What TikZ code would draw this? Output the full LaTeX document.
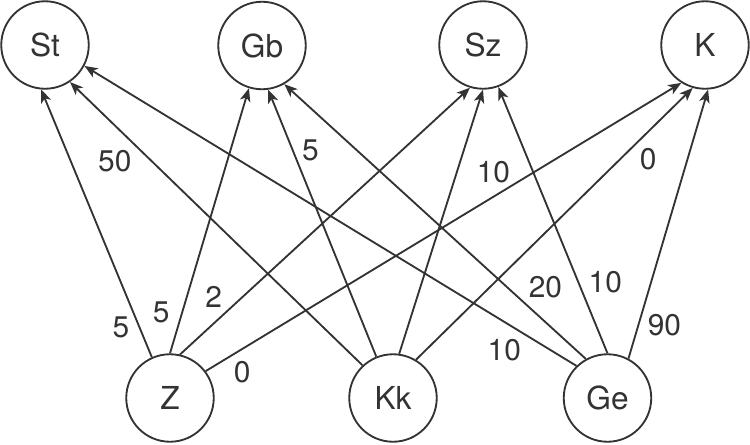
\documentclass[tikz,border=0pt]{standalone}
\usepackage{fontspec}
\setmainfont{TeX Gyre Heros}
\usetikzlibrary{arrows.meta}
\definecolor{ink}{HTML}{333333}

\begin{document}
\begin{tikzpicture}[scale = 1.0,
	state/.style = {shape=circle, draw=ink, text=ink, line width = 1.05pt, minimum size = 1.75cm, inner sep = 0pt, font=\fontsize{18}{21}\selectfont},
	wt/.style = {text=ink, inner sep = 2pt, font=\fontsize{17}{20}\selectfont},
	every edge/.style = {draw=ink, line width = 1.05pt, -{Stealth[length=7.5pt, width=6pt, inset=2pt]}}]
	\useasboundingbox (0,0) rectangle (15,8.88);
	
	\node(St) [state] at (0.90,7.98) {St};
	\node(Gb) [state] at (5.24,7.97) {Gb};
	\node(Sz) [state] at (9.66,7.98) {Sz};
	\node(K)  [state] at (14.10,7.98) {K};
	\node(Z)  [state] at (3.40,0.92) {Z};
	\node(Kk) [state] at (7.86,0.92) {Kk};
	\node(Ge) [state] at (12.15,0.92) {Ge};
	
	\path
	(Z.114) edge node [wt, pos=0.11, left=3.4pt]  {5}  (St.265)
	(Z.90)  edge node [wt, pos=0.154, left=4.7pt] {5}  (Gb.253)
	(Z.77)  edge node [wt, pos=0.16, above left]  {2}  (Sz.253)
	(Z.37)  edge node [wt, pos=0.05, below right] {0}  (K.238)
	(Kk.133) edge node [wt, pos=0.775, below left] {50} (St.304)
	(Kk.112) edge node [wt, pos=0.773, right=2.8pt]  {5}  (Gb.278)
	(Kk.82)  edge node [wt, pos=0.688, right=8.8pt]  {10} (Sz.270)
	(Kk.59)  edge node [wt, pos=0.793, below right] {0} (K.254)
	(Ge.134) edge node [wt, pos=0.104, below left] {10} (St.332)
	(Ge.119) edge node [wt, pos=0.204, above right] {20} (Gb.300)
	(Ge.90)  edge node [wt, pos=0.269, right=3.5pt] {10} (Sz.290)
	(Ge.62)  edge node [wt, pos=0.125, right=2.8pt]  {90} (K.274);
\end{tikzpicture}
\end{document}
